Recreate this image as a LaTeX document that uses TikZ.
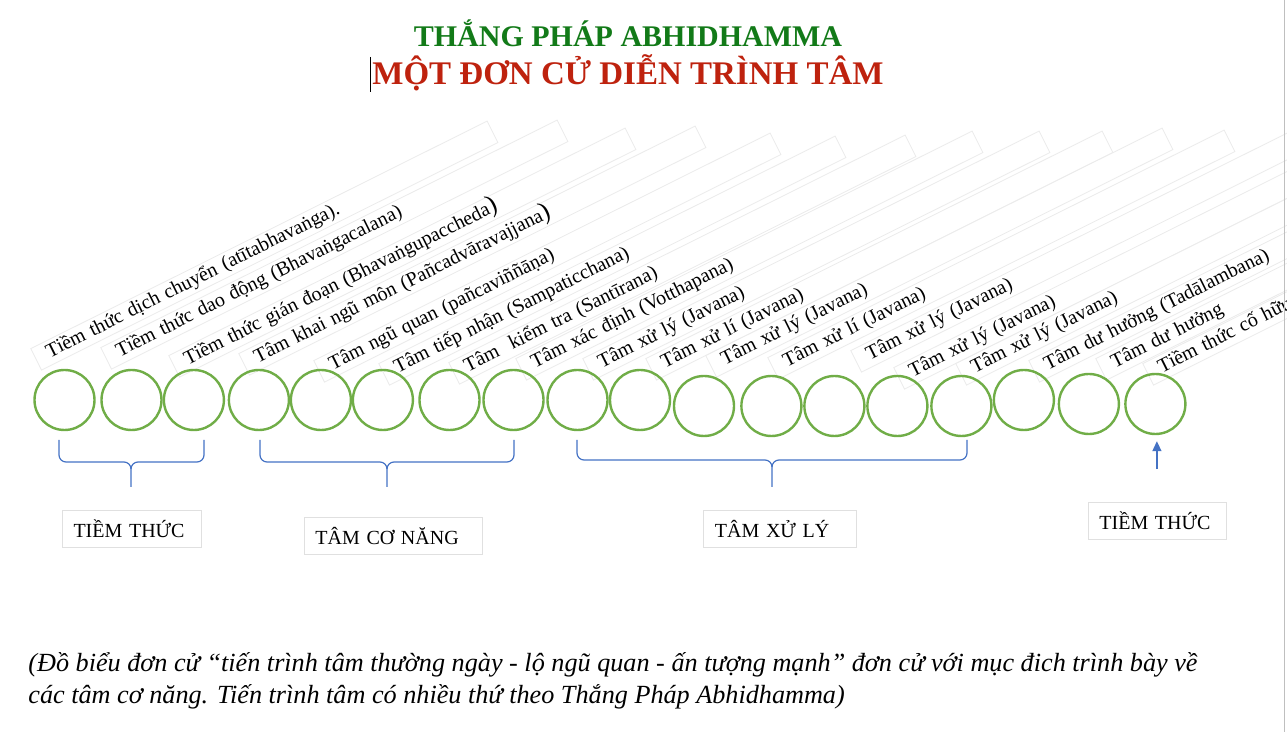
\documentclass[tikz,border=0pt]{standalone}
\usepackage{fontspec}
\setmainfont{Liberation Serif}
\usepackage{tikz}
\usetikzlibrary{shapes,arrows,arrows.meta,calc,positioning}
\definecolor{TitleGreen}{RGB}{18,122,24}
\definecolor{TitleRed}{RGB}{190,34,14}
\definecolor{MindGreen}{RGB}{112,173,71}
\definecolor{BraceBlue}{RGB}{68,114,196}
\tikzstyle{Mind} = [circle, minimum size=30pt, inner sep=0pt, draw=MindGreen, line width=1.2pt]
\tikzstyle{Label} = [rectangle, rotate=26.5, anchor=base west, draw=black!8, fill=white, text width=242pt, align=left, inner xsep=6.5pt, inner ysep=1.5pt, text height=7pt, text depth=2pt, font=\fontsize{10}{12}\selectfont]
\tikzstyle{Box} = [rectangle, minimum height=18.5pt, draw=black!12, align=left, inner xsep=5.75pt, font=\fontsize{10}{12}\selectfont]
\tikzstyle{Brace} = [draw=BraceBlue, line width=0.6pt]
\tikzstyle{arrow} = [draw=BraceBlue, line width=0.7pt, -{Triangle[length=5pt,width=4.5pt]}]

\begin{document}
\begin{tikzpicture}[x=0.5pt, y=0.5pt, node distance=32pt]
\useasboundingbox (0,0) rectangle (1287,-732);

\node (Title)[anchor=base, text=TitleGreen, font=\fontsize{15}{18}\selectfont\bfseries] at (628,-47) {THẮNG PHÁP ABHIDHAMMA};
\node (Subtitle)[anchor=base, text=TitleRed, font=\fontsize{16.5}{20}\selectfont\bfseries] at (628,-85) {MỘT ĐƠN CỬ DIỄN TRÌNH TÂM};
\draw[line width=0.5pt] (370,-57) -- (370,-92);

% rotated labels
\node (Atita Label)[Label] at (38,-364) {Tiềm thức dịch chuyển (atītabhavaṅga).};
\node (Calana Label)[Label] at (108,-363) {Tiềm thức dao động (Bhavaṅgacalana)};
\node (Upaccheda Label)[Label] at (176,-371) {Tiềm thức gián đoạn (Bhavaṅgupaccheda{\fontsize{13}{13}\selectfont )}};
\node (Avajjana Label)[Label] at (246,-369) {Tâm khai ngũ môn (Pañcadvāravajjana{\fontsize{13}{13}\selectfont )}};
\node (Vinnana Label)[Label] at (321,-376) {Tâm ngũ quan (pañcaviññāṇa)};
\node (Sampaticchana Label)[Label] at (386,-379) {Tâm tiếp nhận (Sampaticchana)};
\node (Santirana Label)[Label] at (456,-378) {Tâm\ \ kiểm tra (Santīrana)};
\node (Votthapana Label)[Label] at (523,-374) {Tâm xác định (Votthapana)};
\node (Javana 1 Label)[Label] at (590,-374) {Tâm xử lý (Javana)};
\node (Javana 2 Label)[Label] at (653,-374) {Tâm xử lí (Javana)};
\node (Javana 3 Label)[Label] at (713,-371) {Tâm xử lý (Javana)};
\node (Javana 4 Label)[Label] at (775,-373) {Tâm xử lí (Javana)};
\node (Javana 5 Label)[Label] at (858,-366) {Tâm xử lý (Javana)};
\node (Javana 6 Label)[Label] at (901,-383) {Tâm xử lý (Javana)};
\node (Javana 7 Label)[Label] at (963,-379) {Tâm xử lý (Javana)};
\node (Tadalambana 1 Label)[Label] at (1036,-376) {Tâm dư hưởng (Tadālambana)};
\node (Tadalambana 2 Label)[Label] at (1103,-374) {Tâm dư hưởng};
\node (Bhavanga Label)[Label] at (1150,-379) {Tiềm thức cố hữu};

% the mind moments
\node (Atita)[Mind] at (64.5,-400) {};
\node (Calana)[Mind, right of = Atita, xshift=1.5pt] {};
\node (Upaccheda)[Mind, right of = Calana, xshift=-0.8pt] {};
\node (Avajjana)[Mind, right of = Upaccheda, xshift=0.5pt] {};
\node (Vinnana)[Mind, right of = Avajjana, xshift=-1pt] {};
\node (Sampaticchana)[Mind, right of = Vinnana, xshift=-1pt] {};
\node (Santirana)[Mind, right of = Sampaticchana, xshift=1.3pt] {};
\node (Votthapana)[Mind, right of = Santirana] {};
\node (Javana 1)[Mind, right of = Votthapana] {};
\node (Javana 2)[Mind, right of = Javana 1, xshift=-0.75pt] {};
\node (Javana 3)[Mind, right of = Javana 2, yshift=-3pt] {};
\node (Javana 4)[Mind, right of = Javana 3, xshift=1.7pt] {};
\node (Javana 5)[Mind, right of = Javana 4, xshift=-0.5pt] {};
\node (Javana 6)[Mind, right of = Javana 5, xshift=-0.5pt] {};
\node (Javana 7)[Mind, right of = Javana 6] {};
\node (Tadalambana 1)[Mind, right of = Javana 7, xshift=-0.75pt, yshift=3pt] {};
\node (Tadalambana 2)[Mind, right of = Tadalambana 1, xshift=0.5pt, yshift=-2pt] {};
\node (Bhavanga)[Mind, right of = Tadalambana 2, xshift=1.25pt] {};

% braces
\draw[Brace] (59,-440) -- (59,-455) to[out=-90,in=180] (66,-462) -- (124,-462) to[out=0,in=90] (131,-469) -- (131,-487);
\draw[Brace] (204,-440) -- (204,-455) to[out=-90,in=0] (197,-462) -- (138,-462) to[out=180,in=90] (131,-469);
\draw[Brace] (260,-440) -- (260,-455) to[out=-90,in=180] (267,-462) -- (380,-462) to[out=0,in=90] (387,-469) -- (387,-487);
\draw[Brace] (514,-440) -- (514,-455) to[out=-90,in=0] (507,-462) -- (394,-462) to[out=180,in=90] (387,-469);
\draw[Brace] (577,-440) -- (577,-453) to[out=-90,in=180] (584,-460) -- (765,-460) to[out=0,in=90] (772,-467) -- (772,-487);
\draw[Brace] (967,-440) -- (967,-453) to[out=-90,in=0] (960,-460) -- (779,-460) to[out=180,in=90] (772,-467);

% group boxes
\node (Tiem Thuc Box)[Box, text width=58pt, below of = Calana, yshift=-32.25pt]{TIỀM THỨC};
\node (Co Nang Box)[Box, text width=77.5pt, below of = Sampaticchana, xshift=5pt, yshift=-36pt]{TÂM CƠ NĂNG};
\node (Xu Ly Box)[Box, text width=65pt, below of = Javana 4, xshift=4.25pt, yshift=-29.5pt]{TÂM XỬ LÝ};
\node (Bhavanga Box)[Box, text width=57.5pt, below of = Bhavanga, xshift=0.75pt, yshift=-26.5pt]{TIỀM THỨC};

\draw[arrow, shorten <=16.5pt, shorten >=3pt](Bhavanga Box.north)--(Bhavanga Box.north |- Bhavanga.south);

\node (Caption)[anchor=north west, align=left, inner sep=0pt, font=\fontsize{13.1}{16}\selectfont\itshape] at (28,-652) {(Đồ biểu đơn cử “tiến trình tâm thường ngày - lộ ngũ quan - ấn tượng mạnh” đơn cử với mục đich trình bày về\\
các tâm cơ năng. Tiến trình tâm có nhiều thứ theo Thắng Pháp Abhidhamma)};

\draw[black!25, line width=0.5pt] (1284,0) -- (1284,-732);
\end{tikzpicture}
\end{document}
